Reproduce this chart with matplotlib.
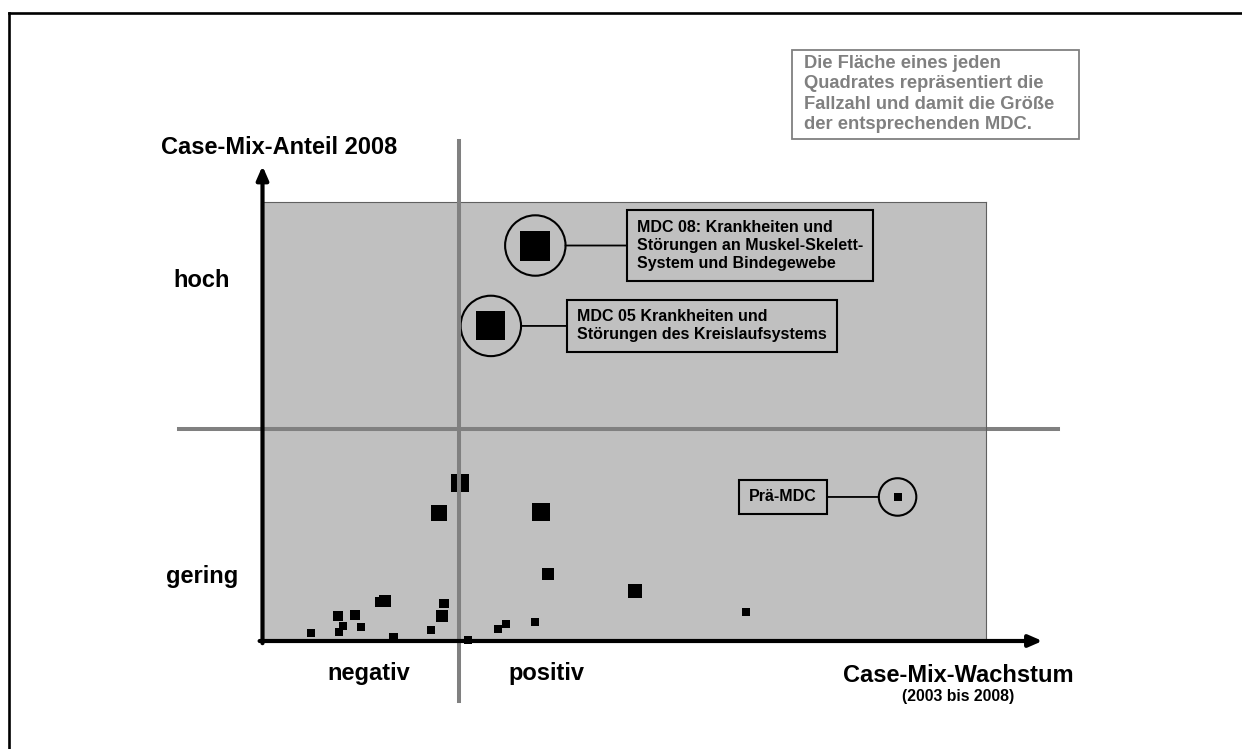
import matplotlib
matplotlib.use('Agg')
import matplotlib.pyplot as plt
import numpy as np
from matplotlib.lines import Line2D
from matplotlib.patches import Rectangle

# Case-Mix-Wachstum 2003-2008 (%), Case-Mix-Anteil 2008 (%), Fallzahl (Tsd.) je MDC
growth = [0.1, -2.05, 8.2, 8.9, 17.6, -7.4, -7.9, -1.5, -1.7, -12.15, -10.4,
          -11.6, -9.8, -12.0, -14.8, -6.55, -2.85, 0.85, 3.85, 4.7, 7.55, 28.7]
share = [5.27, 4.27, 4.3, 2.23, 1.67, 1.33, 1.3, 1.25, 0.83, 0.82, 0.87,
         0.5, 0.47, 0.3, 0.28, 0.1, 0.37, 0.02, 0.4, 0.57, 0.62, 0.97]
cases = [36, 28, 36, 16, 22, 16, 11, 11, 16, 11, 11,
         7, 7, 7, 7, 9, 7, 7, 7, 7, 7, 7]

# hervorgehobene MDCs
callout_labels = ['MDC 08: Krankheiten und\nStörungen an Muskel-Skelett-\nSystem und Bindegewebe',
                  'MDC 05 Krankheiten und\nStörungen des Kreislaufsystems',
                  'Prä-MDC']
callout_growth = [7.6, 3.15, 43.85]
callout_share = [13.18, 10.5, 4.8]
callout_cases = [100, 93, 7]

growth_split = 0.0
share_split = 7.07

note = ('Die Fläche eines jeden\nQuadrates repräsentiert die\n'
        'Fallzahl und damit die Größe\nder entsprechenden MDC.')

W, H, DPI = 1242, 749, 100
plt.rcParams['font.family'] = ['Liberation Sans', 'DejaVu Sans']
plt.rcParams['font.weight'] = 'bold'

fig = plt.figure(figsize=(W / DPI, H / DPI), dpi=DPI)


def fx(px):
    return px / W


def fy(py):
    return 1 - py / H


ax = fig.add_axes([fx(262.5), fy(641), (986 - 262.5) / W, (641 - 202) / H])
ax.set_facecolor('#c0c0c0')
ax.set_xlim(-19.7, 52.7)
ax.set_ylim(0, 14.63)
ax.set_xticks([])
ax.set_yticks([])
for side in ['left', 'bottom']:
    ax.spines[side].set_visible(False)
for side in ['top', 'right']:
    ax.spines[side].set_color('#606060')
    ax.spines[side].set_linewidth(0.8)


def side_pt(n):
    # Kantenlaenge ~ Wurzel der Fallzahl, Flaeche ~ Fallzahl
    return 3.0 * np.sqrt(n) * 0.72


ax.scatter(growth, share, s=[side_pt(n) ** 2 for n in cases], marker='s',
           c='black', linewidths=0, zorder=3, clip_on=False)
ax.scatter(callout_growth, callout_share, s=[side_pt(n) ** 2 for n in callout_cases],
           marker='s', c='black', linewidths=0, zorder=3, clip_on=False)

# Kreise und Beschriftungskaesten
circle_d = [43.5, 43.5, 27]
text_off = [73, 62, -58]
text_ha = ['left', 'left', 'right']
ax.scatter(callout_growth, callout_share, s=[d ** 2 for d in circle_d], marker='o',
           facecolors='none', edgecolors='black', linewidths=1.5, zorder=3)
for lab, gx, sy, d, off, ha in zip(callout_labels, callout_growth, callout_share,
                                   circle_d, text_off, text_ha):
    ax.annotate(lab, xy=(gx, sy), xytext=(off, 0), textcoords='offset points',
                ha=ha, va='center', fontsize=11.5, linespacing=1.25, zorder=5,
                bbox=dict(boxstyle='square,pad=0.62', fc='#c0c0c0', ec='black', lw=1.5),
                arrowprops=dict(arrowstyle='-', color='black', lw=1.3,
                                shrinkA=0, shrinkB=d / 2))

# Quadrantengrenzen
ax.axvline(growth_split, ymin=-0.137, ymax=1.139, color='#808080', lw=2.9,
           clip_on=False, zorder=4)
ax.axhline(share_split, xmin=-0.116, xmax=1.099, color='#808080', lw=2.9,
           clip_on=False, zorder=2)

# Achsenpfeile
arrow_kw = dict(arrowstyle='-|>,head_length=0.8,head_width=0.35', color='black',
                lw=3, shrinkA=0, shrinkB=0)
ax.annotate('', xy=(0, 1.082), xytext=(0, -0.005), xycoords='axes fraction',
            arrowprops=arrow_kw, annotation_clip=False, zorder=6)
ax.annotate('', xy=(1.078, 0), xytext=(-0.004, 0), xycoords='axes fraction',
            arrowprops=arrow_kw, annotation_clip=False, zorder=6)

# Beschriftungen
big = 17
fig.text(fx(279), fy(154), 'Case-Mix-Anteil 2008', ha='center', va='baseline', fontsize=big)
fig.text(fx(202), fy(287), 'hoch', ha='center', va='baseline', fontsize=big)
fig.text(fx(202), fy(583), 'gering', ha='center', va='baseline', fontsize=big)
fig.text(fx(369), fy(680), 'negativ', ha='center', va='baseline', fontsize=big)
fig.text(fx(546), fy(680), 'positiv', ha='center', va='baseline', fontsize=big)
fig.text(fx(958), fy(682), 'Case-Mix-Wachstum', ha='center', va='baseline', fontsize=big)
fig.text(fx(958), fy(701), '(2003 bis 2008)', ha='center', va='baseline', fontsize=11.4)

# Hinweis oben rechts
fig.text(fx(804), fy(94), note, ha='left', va='center', color='#808080',
         fontsize=13.2, linespacing=1.26)
fig.add_artist(Rectangle((fx(792), fy(139)), (1079 - 792) / W, (139 - 50) / H,
                         transform=fig.transFigure, fill=False, ec='#808080', lw=1.3))

# aeusserer Rahmen
fig.add_artist(Line2D([fx(8.5), fx(8.5)], [0, fy(12.5)], color='black', lw=1.9))
fig.add_artist(Line2D([fx(8.5), 1], [fy(12.5), fy(12.5)], color='black', lw=1.9))

fig.savefig('out.png', dpi=DPI)
